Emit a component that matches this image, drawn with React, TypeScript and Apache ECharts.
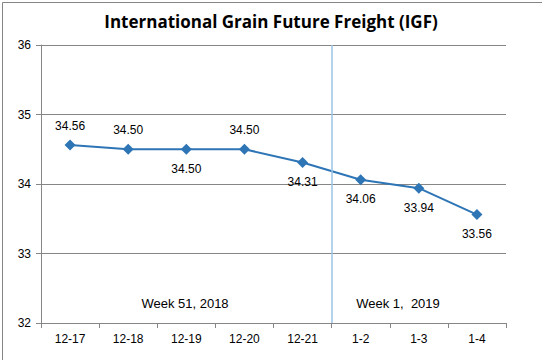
import React, { useEffect, useRef } from "react";
import * as echarts from "echarts";

const categories = ["12-17", "12-18", "12-19", "12-20", "12-21", "1-2", "1-3", "1-4"];
const values = [34.56, 34.5, 34.5, 34.5, 34.31, 34.06, 33.94, 33.56];
const labelPositions = ["top", "top", "bottom", "top", "bottom", "bottom", "bottom", "bottom"];
const weekLabels = ["Week 51, 2018", "Week 1,  2019"];
const dividerAt = 5; // boundary between 12-21 and 1-2 (in category units)
const title = "International Grain Future Freight (IGF)";

export default function App() {
  const ref = useRef<HTMLDivElement>(null);
  useEffect(() => {
    document.body.style.margin = "0";
    const chart = echarts.init(ref.current!, null, { renderer: "svg" });
    const font = "Arial, 'Liberation Sans', sans-serif";
    chart.setOption({
      animation: false,
      backgroundColor: "#fff",
      title: {
        text: title,
        left: "center",
        top: 8,
        textStyle: { fontSize: 17, fontWeight: "bold", color: "#000", fontFamily: "'Open Sans', Arial, sans-serif" },
      },
      grid: { left: 41, right: 36, top: 45, bottom: 37 },
      xAxis: [
        {
          type: "category",
          data: categories,
          boundaryGap: true,
          axisLine: { lineStyle: { color: "#868686" } },
          axisTick: { show: true, alignWithLabel: false, length: 5, lineStyle: { color: "#868686" } },
          axisLabel: { color: "#000", fontSize: 12, fontFamily: font, margin: 10 },
        },
        {
          type: "value",
          min: 0,
          max: categories.length,
          show: false,
        },
      ],
      yAxis: {
        type: "value",
        min: 32,
        max: 36,
        interval: 1,
        axisLine: { show: true, lineStyle: { color: "#868686" } },
        axisTick: { show: true, length: 5, lineStyle: { color: "#868686" } },
        axisLabel: { color: "#000", fontSize: 12, fontFamily: font, margin: 10 },
        splitLine: { lineStyle: { color: "#868686" } },
      },
      series: [
        {
          type: "line",
          xAxisIndex: 1,
          data: [],
          markLine: {
            silent: true,
            symbol: "none",
            label: { show: false },
            lineStyle: { color: "#9DC3E6", type: "solid", width: 1.5 },
            data: [{ xAxis: dividerAt }],
          },
        },
        {
          type: "line",
          xAxisIndex: 0,
          data: values.map((v, i) => ({
            value: v,
            label: { position: labelPositions[i] },
          })),
          symbol: "diamond",
          symbolSize: 11,
          lineStyle: { color: "#2E75B6", width: 2 },
          itemStyle: { color: "#2E75B6" },
          label: {
            show: true,
            formatter: (p: any) => p.value.toFixed(2),
            color: "#000",
            fontSize: 12,
            fontFamily: font,
            distance: 8,
          },
        },
      ],
      graphic: [
        {
          type: "rect",
          left: 0,
          top: 0,
          shape: { width: 541, height: 359 },
          style: { fill: "none", stroke: "#868686", lineWidth: 1 },
          silent: true,
        },
        {
          type: "text",
          x: 185,
          y: 303,
          style: { text: weekLabels[0], fontSize: 13, fill: "#000", fontFamily: font, textAlign: "center", textVerticalAlign: "middle" },
        },
        {
          type: "text",
          x: 398,
          y: 303,
          style: { text: weekLabels[1], fontSize: 13, fill: "#000", fontFamily: font, textAlign: "center", textVerticalAlign: "middle" },
        },
      ],
    });
    return () => chart.dispose();
  }, []);
  return <div ref={ref} style={{ width: 542, height: 360 }} />;
}
